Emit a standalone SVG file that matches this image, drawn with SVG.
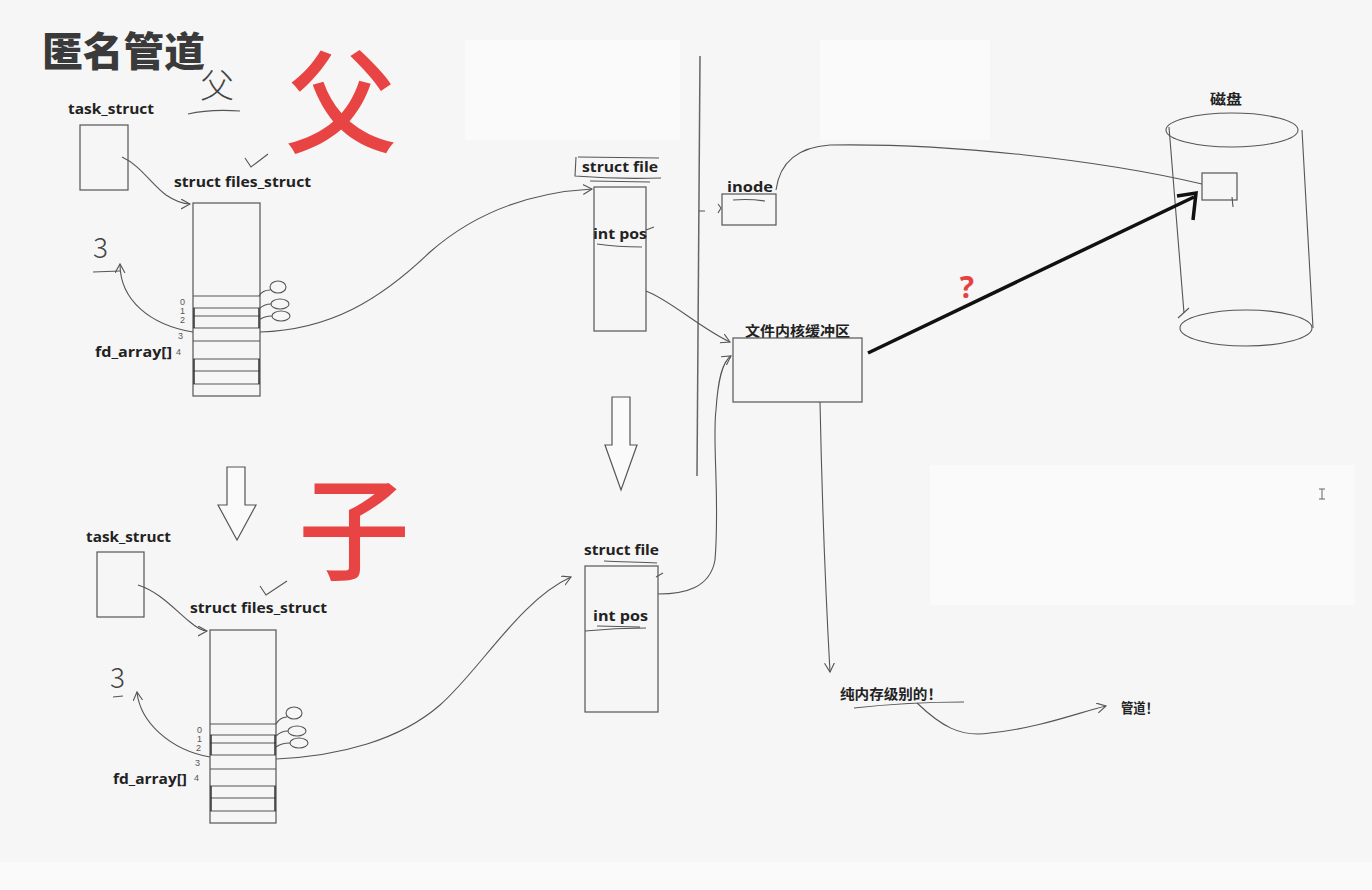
<svg xmlns="http://www.w3.org/2000/svg" width="1372" height="890" viewBox="0 0 1372 890">
<defs>
<style>
.bg{fill:#f6f6f6}
.wp{fill:#fafafa}
.box{fill:none;stroke:#555;stroke-width:1.2}
.ln{fill:none;stroke:#555;stroke-width:1.1}
.lbl{font-family:"Open Sans","Noto Sans","Noto Sans CJK SC",sans-serif;font-weight:700;fill:#222;font-size:15px}
.cjk{font-family:"Noto Sans CJK SC","Noto Sans",sans-serif;font-weight:700;fill:#222;font-size:14px}
.num{font-family:"Liberation Sans",sans-serif;fill:#555;font-size:9px}
.hand{font-family:"Noto Sans CJK SC",sans-serif;font-weight:300;fill:#444}
.red{font-family:"Noto Sans CJK SC",sans-serif;font-weight:500;fill:#e84444}
</style>
<marker id="ch" markerWidth="12" markerHeight="12" refX="9" refY="5" orient="auto" markerUnits="userSpaceOnUse">
<path d="M0,0 L9,5 L0,10" fill="none" stroke="#555" stroke-width="1.1"/>
</marker>
</defs>
<rect class="bg" x="0" y="0" width="1372" height="890"/>
<rect class="wp" x="465" y="40" width="215" height="100"/>
<rect class="wp" x="820" y="40" width="170" height="100"/>
<rect class="wp" x="930" y="465" width="425" height="140"/>
<rect class="wp" x="0" y="862" width="1372" height="28"/>

<g id="title">
<text x="42" y="66" font-family="Noto Sans CJK SC,sans-serif" font-weight="900" font-size="40" fill="#3a3a3a" textLength="163" lengthAdjust="spacingAndGlyphs">匿名管道</text>
</g>

<g id="handwriting">
<text class="hand" x="200" y="98" font-size="34">父</text>
<path class="ln" d="M188,114 C205,110 225,110 240,111"/>
<text class="red" x="285" y="145" font-size="112">父</text>
<text class="red" x="298" y="572" font-size="112">子</text>
<text class="hand" x="93" y="258" font-size="28">3</text>
<path class="ln" d="M93,272 L120,271"/>
<text class="hand" x="110" y="688" font-size="28">3</text>
<path class="ln" d="M113,697 L123,696"/>
<path class="ln" d="M245,158 L251,167 L268,154"/>
<path class="ln" d="M260,586 L266,595 L287,581"/>
<text x="967" y="298" font-family="Open Sans,sans-serif" font-weight="700" font-size="30" fill="#e84040" text-anchor="middle">?</text>
</g>

<g id="divider">
<path d="M700,56 L697,476" fill="none" stroke="#666" stroke-width="1.5"/>
<path class="ln" d="M699,211 L705,211 M718,204 L721,208 L718,213"/>
</g>

<g id="parent-task">
<text class="lbl" x="68" y="114" textLength="86" lengthAdjust="spacingAndGlyphs">task_struct</text>
<rect class="box" x="80" y="125" width="48" height="65"/>
</g>

<g id="parent-files">
<text class="lbl" x="174" y="187" textLength="137" lengthAdjust="spacingAndGlyphs">struct files_struct</text>
<rect class="box" x="193" y="203" width="67" height="193"/>
<path class="ln" d="M193,296 H260 M193,308 H260 M193,316 H260 M193,328 H260 M193,341 H260 M193,359 H260 M193,371 H260 M193,384 H260"/>
<path d="M194,308 V328 M259,308 V328 M194,359 V384 M259,359 V384" fill="none" stroke="#333" stroke-width="1.5"/>
<text class="num" x="180" y="305">0</text>
<text class="num" x="180" y="314">1</text>
<text class="num" x="180" y="323">2</text>
<text class="num" x="178" y="339">3</text>
<text class="num" x="176" y="355" font-size="12">4</text>
<text class="lbl" x="95" y="357" textLength="77" lengthAdjust="spacingAndGlyphs">fd_array[]</text>
<ellipse class="ln" cx="278" cy="287" rx="8" ry="6"/>
<ellipse class="ln" cx="280" cy="304" rx="9" ry="5"/>
<ellipse class="ln" cx="281" cy="316" rx="9" ry="5"/>
<path class="ln" d="M259,296 C262,291 266,290 270,290 M259,309 C263,305 267,304 271,304 M259,320 C263,317 267,316 272,316"/>
</g>

<g id="parent-file">
<text class="lbl" x="582" y="172" textLength="76" lengthAdjust="spacingAndGlyphs">struct file</text>
<path class="ln" d="M576,157 L575,176 C600,178 630,179 661,178 M578,157 L659,158"/>
<path class="ln" d="M590,181 L650,182"/>
<rect class="box" x="594" y="187" width="52" height="144"/>
<text class="lbl" x="593" y="239" textLength="54" lengthAdjust="spacingAndGlyphs">int pos</text>
<path class="ln" d="M597,244 C610,246 630,247 642,247 M646,230 L654,227"/>
</g>

<g id="parent-arrow-down">
<path d="M612,397 H630 V445 H637 L621,490 L605,445 H612 Z" fill="#fafafa" stroke="#555" stroke-width="1.2"/>
</g>

<g id="inode">
<text class="lbl" x="727" y="192" textLength="46" lengthAdjust="spacingAndGlyphs">inode</text>
<path class="ln" d="M733,200 C745,199 758,200 765,201"/>
<rect class="box" x="722" y="194" width="54" height="31"/>
</g>

<g id="buffer">
<text class="cjk" x="745" y="336" textLength="105" lengthAdjust="spacingAndGlyphs">文件内核缓冲区</text>
<rect class="box" x="733" y="338" width="129" height="64"/>
</g>

<g id="disk">
<text class="cjk" x="1210" y="104" textLength="32" lengthAdjust="spacingAndGlyphs">磁盘</text>
<ellipse class="ln" cx="1232" cy="130" rx="66" ry="17"/>
<ellipse class="ln" cx="1246" cy="328" rx="66" ry="18"/>
<path class="ln" d="M1169,127 L1184,313 M1302,130 L1313,328"/>
<rect class="box" x="1202" y="173" width="35" height="27"/>
<path class="ln" d="M1232,197 L1233,207 M1178,318 L1189,308"/>
</g>

<g id="child-arrow-down">
<path d="M227,467 H245 V505 H256 L237,540 L218,505 H227 Z" fill="#fafafa" stroke="#555" stroke-width="1.2"/>
</g>

<g id="child-task">
<text class="lbl" x="86" y="542" textLength="85" lengthAdjust="spacingAndGlyphs">task_struct</text>
<rect class="box" x="97" y="552" width="47" height="65"/>
</g>

<g id="child-files">
<text class="lbl" x="190" y="613" textLength="137" lengthAdjust="spacingAndGlyphs">struct files_struct</text>
<rect class="box" x="210" y="630" width="66" height="193"/>
<path class="ln" d="M210,724 H276 M210,735 H276 M210,743 H276 M210,755 H276 M210,769 H276 M210,786 H276 M210,798 H276 M210,811 H276"/>
<path d="M211,735 V755 M275,735 V755 M211,786 V811 M275,786 V811" fill="none" stroke="#333" stroke-width="1.5"/>
<text class="num" x="197" y="733">0</text>
<text class="num" x="197" y="742">1</text>
<text class="num" x="196" y="751">2</text>
<text class="num" x="195" y="766">3</text>
<text class="num" x="194" y="781" font-size="12">4</text>
<text class="lbl" x="113" y="784" textLength="74" lengthAdjust="spacingAndGlyphs">fd_array[]</text>
<ellipse class="ln" cx="294" cy="713" rx="8" ry="6"/>
<ellipse class="ln" cx="297" cy="731" rx="9" ry="5"/>
<ellipse class="ln" cx="299" cy="743" rx="9" ry="5"/>
<path class="ln" d="M276,724 C279,719 283,717 287,717 M276,736 C280,732 284,731 288,731 M276,747 C280,744 284,743 290,743"/>
</g>

<g id="child-file">
<text class="lbl" x="584" y="555" textLength="75" lengthAdjust="spacingAndGlyphs">struct file</text>
<path class="ln" d="M604,561 C620,562 640,562 657,563"/>
<rect class="box" x="585" y="566" width="73" height="146"/>
<text class="lbl" x="593" y="621" textLength="55" lengthAdjust="spacingAndGlyphs">int pos</text>
<path class="ln" d="M585,631 C605,629 630,628 646,628 M597,626 L640,627"/>
<path class="ln" d="M656,577 L663,573"/>
</g>

<g id="memory-label">
<text class="cjk" x="840" y="699" textLength="102" lengthAdjust="spacingAndGlyphs">纯内存级别的！</text>
<path class="ln" d="M854,708 C890,704 930,702 964,702"/>
</g>

<g id="pipe-label">
<text class="cjk" x="1121" y="713" textLength="37" lengthAdjust="spacingAndGlyphs">管道！</text>
</g>

<g id="cursor">
<path d="M1319,489 H1325 M1322,489 V499 M1319,499 H1325" fill="none" stroke="#666" stroke-width="1"/>
</g>

<g id="connectors">
<path class="ln" marker-end="url(#ch)" d="M122,157 C140,165 152,185 166,195 C175,201 183,204 190,204"/>
<path class="ln" marker-end="url(#ch)" d="M260,332 C330,330 380,300 430,252 C480,208 540,192 592,189"/>
<path class="ln" marker-end="url(#ch)" d="M193,332 C150,325 120,300 120,264"/>
<path class="ln" marker-end="url(#ch)" d="M646,291 C670,300 700,328 730,342"/>
<path class="ln" d="M776,190 C780,160 800,147 830,145 C950,143 1100,160 1202,184"/>
<path d="M868,353 L1194,197" fill="none" stroke="#111" stroke-width="3.5"/>
<path d="M1177,196 L1196,193 L1193,220" fill="none" stroke="#111" stroke-width="3.5"/>
<path class="ln" marker-end="url(#ch)" d="M820,402 C822,500 826,600 830,672"/>
<path class="ln" marker-end="url(#ch)" d="M917,703 C940,725 960,738 990,733 C1040,728 1080,712 1106,706"/>
<path class="ln" marker-end="url(#ch)" d="M138,585 C160,592 175,610 190,622 C197,628 202,631 207,631"/>
<path class="ln" marker-end="url(#ch)" d="M210,757 C170,750 140,722 137,692"/>
<path class="ln" marker-end="url(#ch)" d="M276,759 C340,756 400,740 440,705 C480,670 520,600 571,577"/>
<path class="ln" marker-end="url(#ch)" d="M658,594 C685,594 710,588 715,560 C720,500 712,440 716,410 C718,380 722,362 731,356"/>
</g>
</svg>
